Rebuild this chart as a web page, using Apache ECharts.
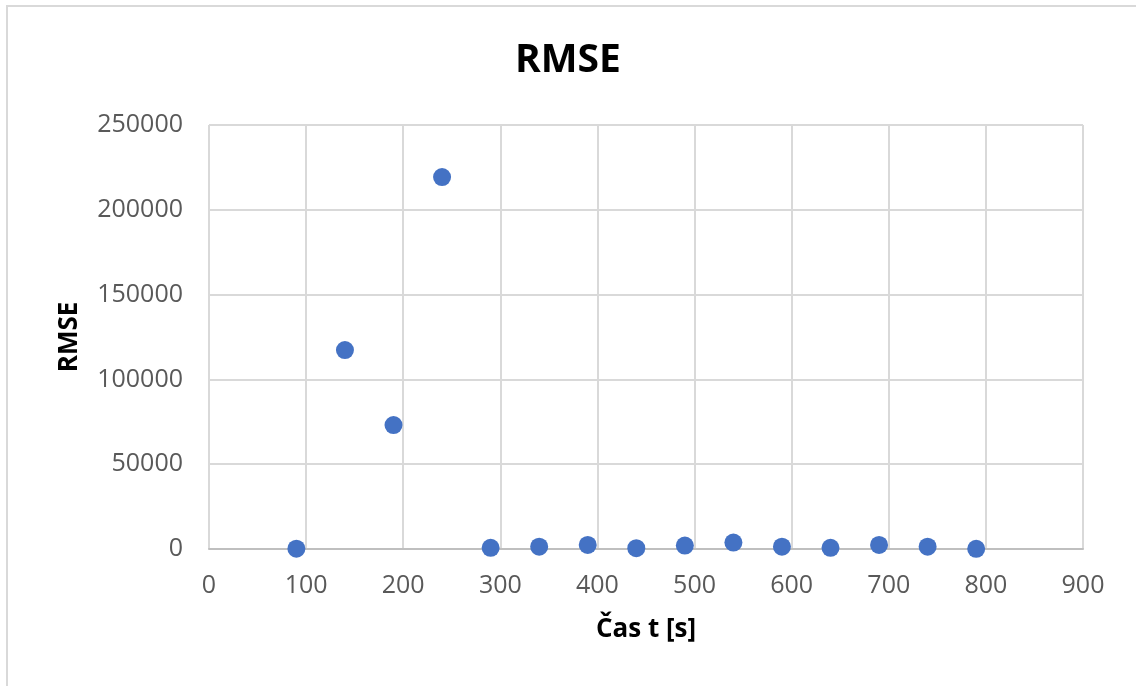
<!DOCTYPE html>
<html>
<head>
<meta charset="utf-8">
<script src="https://cdn.jsdelivr.net/npm/echarts@6/dist/echarts.min.js"></script>
<style>
  html, body { margin: 0; padding: 0; background: #fff; }
  #frame { position: absolute; left: 6px; top: 5px; right: 0; bottom: 0;
           border-left: 2px solid #d9d9d9; border-top: 2px solid #d9d9d9; }
  #chart { position: absolute; left: 0; top: 0; width: 1136px; height: 686px; }
</style>
</head>
<body>
<div id="frame"></div>
<div id="chart"></div>
<script>
// Time of each measurement [s]
const times = [90, 140, 190, 240, 290, 340, 390, 440, 490, 540, 590, 640, 690, 740, 790];
// RMSE at each time
const rmse = [200, 117300, 73100, 219300, 700, 1400, 2400, 500, 2000, 3800, 1400, 700, 2400, 1400, 100];

const points = times.map((t, i) => [t, rmse[i]]);

const font = 'Open Sans';
const chart = echarts.init(document.getElementById('chart'), null, { renderer: 'canvas' });
chart.setOption({
  animation: false,
  backgroundColor: 'transparent',
  title: {
    text: 'RMSE',
    left: 'center',
    top: 36,
    textStyle: { fontFamily: font, fontWeight: 'bold', fontSize: 39, color: '#000' }
  },
  grid: { left: 209, right: 53, top: 125, bottom: 137, containLabel: false },
  xAxis: {
    type: 'value',
    min: 0, max: 900, interval: 100,
    name: 'Čas t [s]',
    nameLocation: 'middle',
    nameGap: 68,
    nameTextStyle: { fontFamily: font, fontWeight: 'bold', fontSize: 26, color: '#000' },
    axisLine: { show: true, lineStyle: { color: '#bfbfbf', width: 2 } },
    axisTick: { show: false },
    axisLabel: { fontFamily: font, fontSize: 25, color: '#595959', margin: 24 },
    splitLine: { show: true, lineStyle: { color: '#d9d9d9', width: 2 } }
  },
  yAxis: {
    type: 'value',
    min: 0, max: 250000, interval: 50000,
    name: 'RMSE',
    nameLocation: 'middle',
    nameRotate: 90,
    nameGap: 126,
    nameTextStyle: { fontFamily: font, fontWeight: 'bold', fontSize: 26, color: '#000' },
    axisLine: { show: false },
    axisTick: { show: false },
    axisLabel: {
      fontFamily: font, fontSize: 25, color: '#595959', margin: 26,
      formatter: (v) => String(v)
    },
    splitLine: { show: true, lineStyle: { color: '#d9d9d9', width: 2 } }
  },
  series: [{
    type: 'scatter',
    data: points,
    symbol: 'circle',
    symbolSize: 18,
    itemStyle: { color: '#4472C4', opacity: 1 }
  }]
});
</script>
</body>
</html>
